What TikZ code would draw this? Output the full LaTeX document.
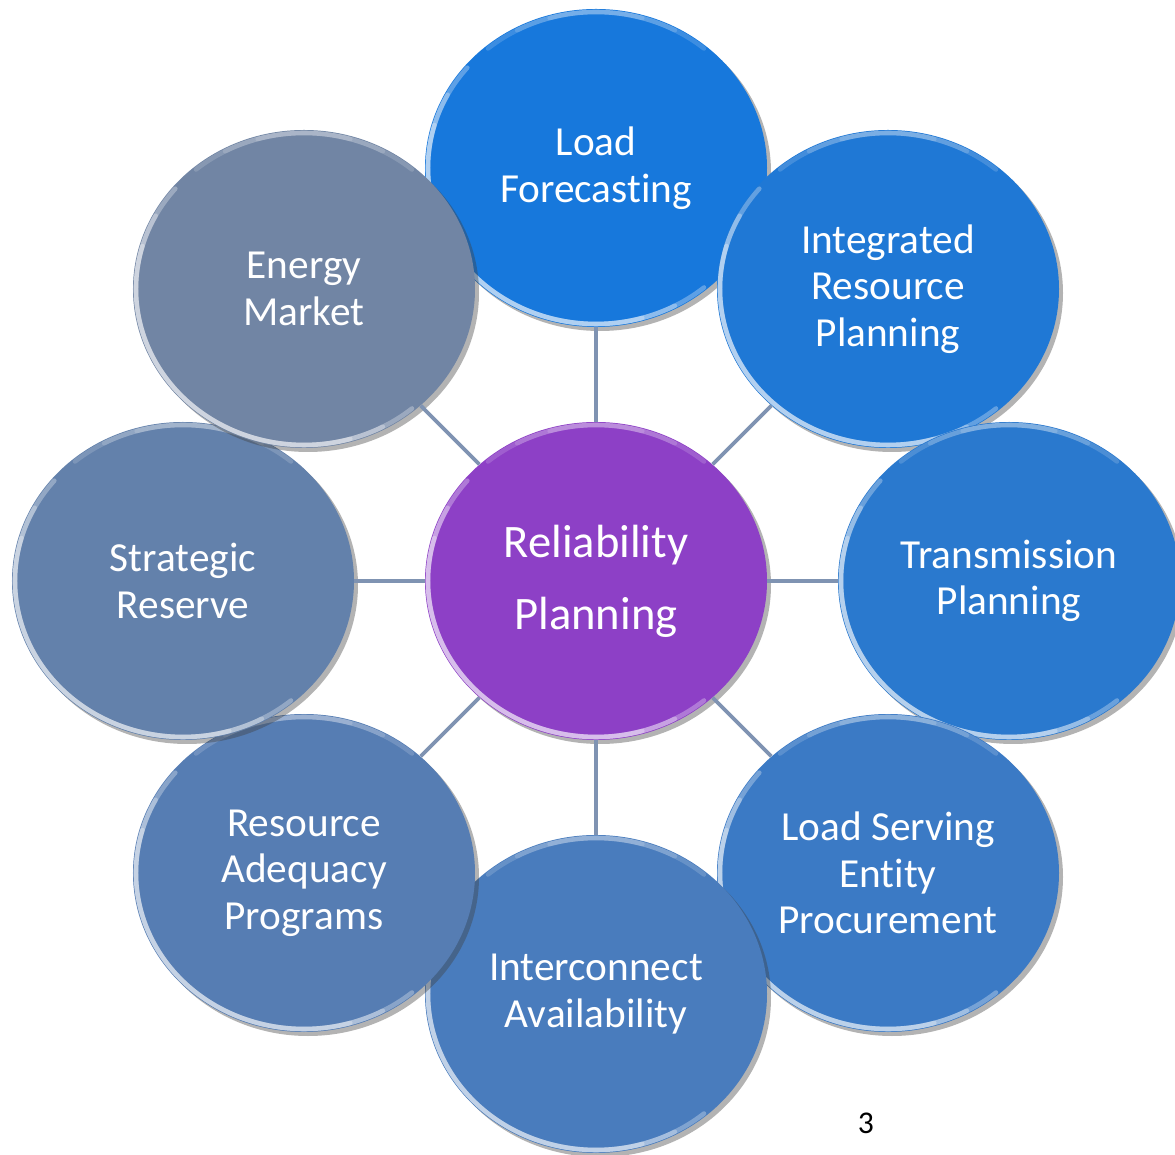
\documentclass[tikz,border=0pt]{standalone}
\usepackage{fontspec}
\setmainfont[Ligatures=NoCommon]{Carlito}
\usepackage{tikz}
\usetikzlibrary{shapes.geometric,positioning,shadows}

\definecolor{relpurple}{HTML}{8D40C6}
\definecolor{lfblue}{HTML}{1778DC}
\definecolor{irpblue}{HTML}{1F78D5}
\definecolor{tpblue}{HTML}{2A79CE}
\definecolor{lseblue}{HTML}{3B7AC5}
\definecolor{iablue}{HTML}{497CBD}
\definecolor{rapblue}{HTML}{567DB3}
\definecolor{srblue}{HTML}{6381AB}
\definecolor{emblue}{HTML}{7185A4}
\definecolor{spokegray}{HTML}{7F93B2}

% light rim along the edge of an ellipse node, brighter towards the middle
\newcommand{\rimarc}[3]{%
  \foreach \w in {0,12,24}
    \draw [white, opacity=#3, line width=2.6pt, line cap=round]
      ([shift={(#1+\w:3.36cm and 3.12cm)}]path picture bounding box.center)
      arc [start angle=#1+\w, end angle=#2-\w, x radius=3.36cm, y radius=3.12cm];}

\tikzstyle{topic} = [ellipse, minimum width=6.84cm, minimum height=6.36cm,
inner sep=0pt, align=center, text=white, font=\fontsize{23.5}{26.5}\selectfont,
drop shadow={shadow xshift=.08cm, shadow yshift=-.08cm, opacity=.4, fill=black!75},
path picture={\rimarc{140}{310}{.3}\rimarc{50}{130}{.16}}]
\tikzstyle{spoke} = [line width=2.2pt, spokegray]

\begin{document}
\begin{tikzpicture}[on grid, node distance=8.26cm]
\useasboundingbox (-11.92,11.62) rectangle (11.58,-11.48);

% Place nodes
\node [topic, fill=relpurple, font=\fontsize{26.5}{41}\selectfont](rel){Reliability\\Planning};
\node [topic, fill=lfblue, above=of rel](lf){Load\\Forecasting};
\node [topic, fill=irpblue, above right=5.84cm and 5.84cm of rel](irp){Integrated\\Resource\\Planning};
\node [topic, fill=tpblue, right=of rel](tp){Transmission\\Planning};
\node [topic, fill=lseblue, below right=5.84cm and 5.84cm of rel](lse){Load Serving\\Entity\\Procurement};
\node [topic, fill=iablue, below=of rel](ia){Interconnect\\Availability};
\node [topic, fill=rapblue, below left=5.84cm and 5.84cm of rel](rap){Resource\\Adequacy\\Programs};
\node [topic, fill=srblue, left=of rel](sr){Strategic\\Reserve};
\node [topic, fill=emblue, above left=5.84cm and 5.84cm of rel](em){Energy\\Market};
\node [font=\fontsize{18}{20}\selectfont](pagenum) at (5.4,-10.84){3};

% Place lines
\foreach \n in {lf,irp,tp,lse,ia,rap,sr,em}
  \draw [spoke] (rel) -- (\n);

\end{tikzpicture}
\end{document}
